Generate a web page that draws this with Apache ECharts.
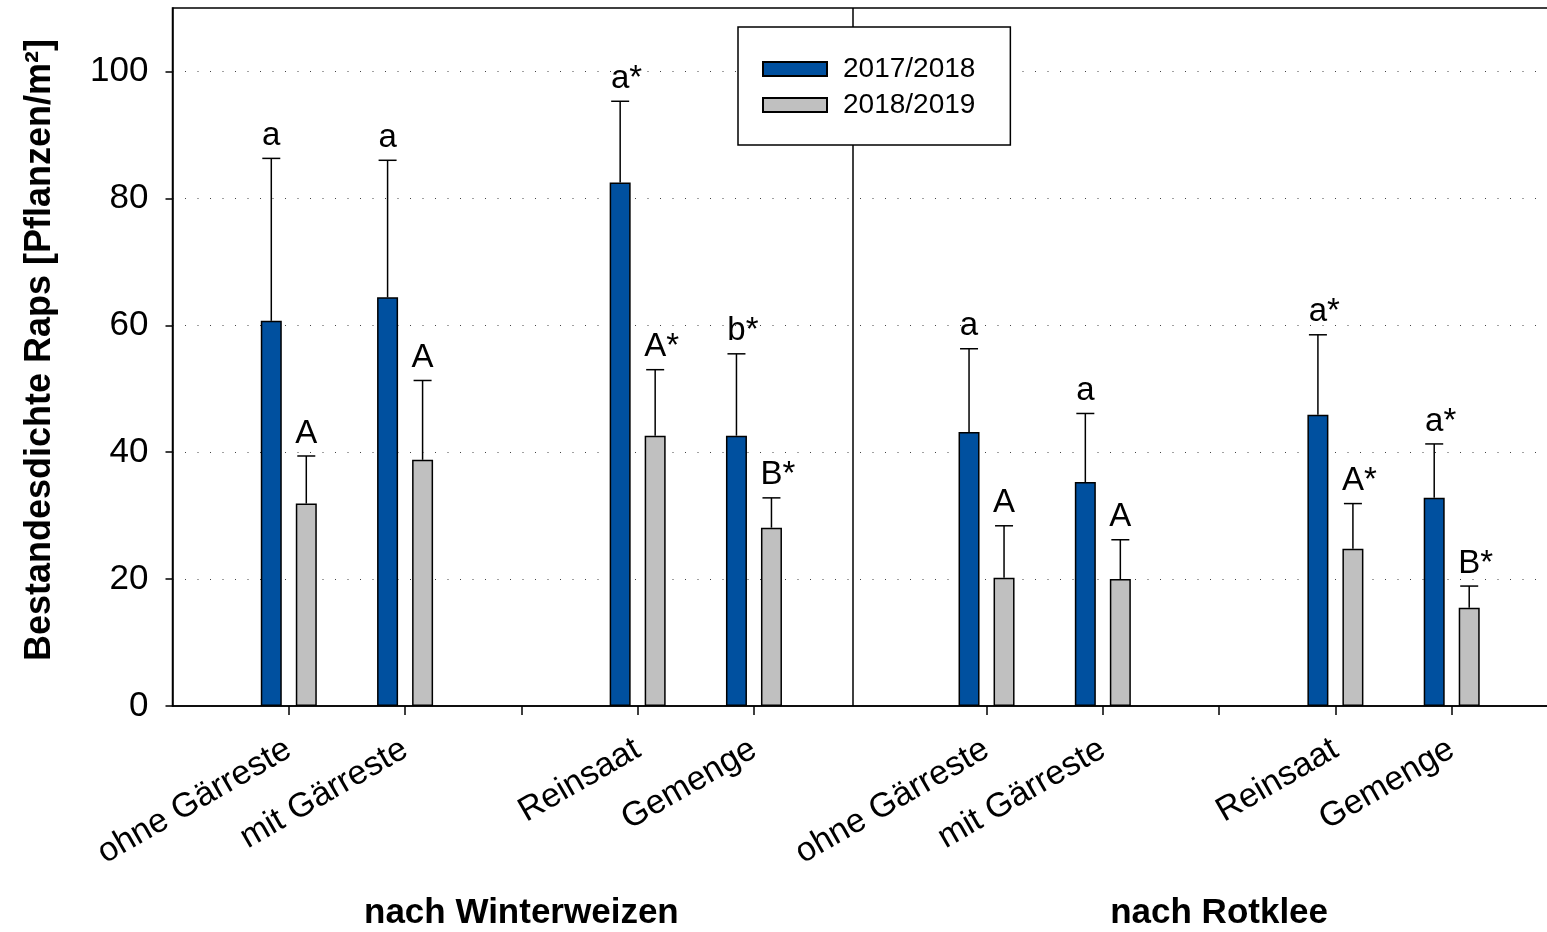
<!DOCTYPE html>
<html>
<head>
<meta charset="utf-8">
<script src="https://cdn.jsdelivr.net/npm/echarts@6/dist/echarts.min.js"></script>
<style>
html,body{margin:0;padding:0;background:#fff;overflow:hidden;width:1547px;height:932px;}
#chart{width:1572px;height:932px;}
</style>
</head>
<body>
<div id="chart"></div>
<script>
// ---- data ----
const categories = ['', 'ohne Gärreste', 'mit Gärreste', '', 'Reinsaat', 'Gemenge', '', 'ohne Gärreste', 'mit Gärreste', '', 'Reinsaat', 'Gemenge', ''];
const tickSlots = [1, 2, 3, 4, 5, 7, 8, 9, 10, 11];
const dividerSlot = 6;
const groupTitles = ['', '', '', 'nach Winterweizen', '', '', '', '', '', 'nach Rotklee', '', '', ''];
const seriesNames = ['2017/2018', '2018/2019'];
const mean1718 = [null, 60.7, 64.4, null, 82.5, 42.6, null, 43.2, 35.3, null, 45.9, 32.8, null];
const sd1718   = [null, 25.6, 21.6, null, 12.8, 12.9, null, 13.1, 10.8, null, 12.6, 8.5, null];
const sig1718  = [null, 'a', 'a', null, 'a*', 'b*', null, 'a', 'a', null, 'a*', 'a*', null];
const mean1819 = [null, 31.9, 38.8, null, 42.6, 28.1, null, 20.2, 20.0, null, 24.8, 15.5, null];
const sd1819   = [null, 7.5, 12.5, null, 10.4, 4.7, null, 8.2, 6.2, null, 7.1, 3.4, null];
const sig1819  = [null, 'A', 'A', null, 'A*', 'B*', null, 'A', 'A', null, 'A*', 'B*', null];
const yTicks = [0, 20, 40, 60, 80, 100];

const FONT = 'Liberation Sans, Arial, sans-serif';
const colors = ['#00509F', '#C0C0C0'];

const measureCtx = document.createElement('canvas').getContext('2d');
function textWidth(t, font) { measureCtx.font = font; return measureCtx.measureText(t).width; }

function errData(means, sds, sigs) {
  const out = [];
  means.forEach((m, i) => { if (m != null) out.push({ value: [i, m, sds[i]], sig: sigs[i] }); });
  return out;
}

function errSeries(idx, means, sds, sigs, offset) {
  const items = errData(means, sds, sigs);
  const letterFont = 'normal 33px ' + FONT;
  return {
    type: 'custom',
    name: seriesNames[idx] + ' err',
    xAxisIndex: 0, yAxisIndex: 0,
    silent: true, z: 5,
    data: items.map(d => d.value),
    renderItem: function (params, api) {
      const slot = api.value(0), m = api.value(1), sd = api.value(2);
      const base = api.coord([slot, m]);
      const top = api.coord([slot, m + sd]);
      const x = base[0] + offset;
      const sig = items[params.dataIndex].sig;
      const letter = sig.replace('*', '');
      const lw = textWidth(letter, letterFont);
      return {
        type: 'group',
        children: [
          { type: 'line', shape: { x1: x, y1: base[1], x2: x, y2: top[1] }, style: { stroke: '#000', lineWidth: 1.5 } },
          { type: 'line', shape: { x1: x - 9, y1: top[1], x2: x + 9, y2: top[1] }, style: { stroke: '#000', lineWidth: 1.5 } },
          { type: 'text', style: { x: x - lw / 2, y: top[1] - 6, text: sig, font: letterFont, fill: '#000', align: 'left', verticalAlign: 'bottom' } }
        ]
      };
    }
  };
}

const chart = echarts.init(document.getElementById('chart'), null, { renderer: 'canvas' });
chart.setOption({
  animation: false,
  backgroundColor: '#fff',
  grid: { left: 172.5, top: 8, right: 4, height: 698, show: true, borderColor: '#000', borderWidth: 1.5, backgroundColor: 'transparent', containLabel: false },
  legend: {
    orient: 'vertical', left: 738, top: 27,
    data: seriesNames,
    icon: 'rect', itemWidth: 64, itemHeight: 14, itemGap: 8,
    padding: [28, 35, 26, 24],
    borderColor: '#000', borderWidth: 1.5, backgroundColor: '#fff',
    textStyle: { fontFamily: FONT, fontSize: 28, color: '#000', padding: [0, 0, 0, 11] },
    z: 10
  },
  xAxis: [{
    type: 'category', data: categories, boundaryGap: false, position: 'bottom',
    axisLine: { lineStyle: { color: '#000', width: 1.5 } },
    axisTick: { show: true, length: 9, interval: (i) => tickSlots.includes(i), lineStyle: { color: '#000', width: 1.5 } },
    axisLabel: { interval: 0, rotate: 30, margin: 41, fontFamily: FONT, fontSize: 34, color: '#000' },
    splitLine: { show: false }
  }, {
    type: 'category', data: groupTitles, boundaryGap: false, position: 'bottom',
    axisLine: { show: false }, axisTick: { show: false },
    axisLabel: { interval: 0, margin: 190, fontFamily: FONT, fontSize: 35, fontWeight: 'bold', color: '#000' },
    splitLine: { show: false }
  }],
  yAxis: {
    type: 'value', min: 0, max: 110, interval: 20,
    name: 'Bestandesdichte Raps [Pflanzen/m²]', nameLocation: 'middle', nameGap: 114,
    nameTextStyle: { fontFamily: FONT, fontSize: 36, fontWeight: 'bold', color: '#000', padding: [0, 0, 0, 14] },
    axisLine: { show: true, lineStyle: { color: '#000', width: 1.5 } },
    axisTick: { show: true, inside: false, length: 7, customValues: yTicks, lineStyle: { color: '#000', width: 1.5 } },
    axisLabel: { customValues: yTicks, margin: 24, fontFamily: FONT, fontSize: 35, color: '#000' },
    splitLine: { show: true, lineStyle: { color: '#444', width: 1, type: [1, 11.5] } }
  },
  series: [{
    type: 'bar', name: seriesNames[0], data: mean1718,
    barWidth: 21, barGap: '66.7%',
    itemStyle: { color: colors[0], borderColor: '#000', borderWidth: 1.5 },
    markLine: {
      silent: true, symbol: ['none', 'none'], label: { show: false },
      lineStyle: { color: '#000', width: 1.5, type: 'solid' },
      data: [{ xAxis: dividerSlot }]
    }
  }, {
    type: 'bar', name: seriesNames[1], data: mean1819,
    barWidth: 21, barGap: '66.7%',
    itemStyle: { color: colors[1], borderColor: '#000', borderWidth: 1.5 }
  },
  errSeries(0, mean1718, sd1718, sig1718, -17.5),
  errSeries(1, mean1819, sd1819, sig1819, 17.5)
  ]
});
</script>
</body>
</html>
